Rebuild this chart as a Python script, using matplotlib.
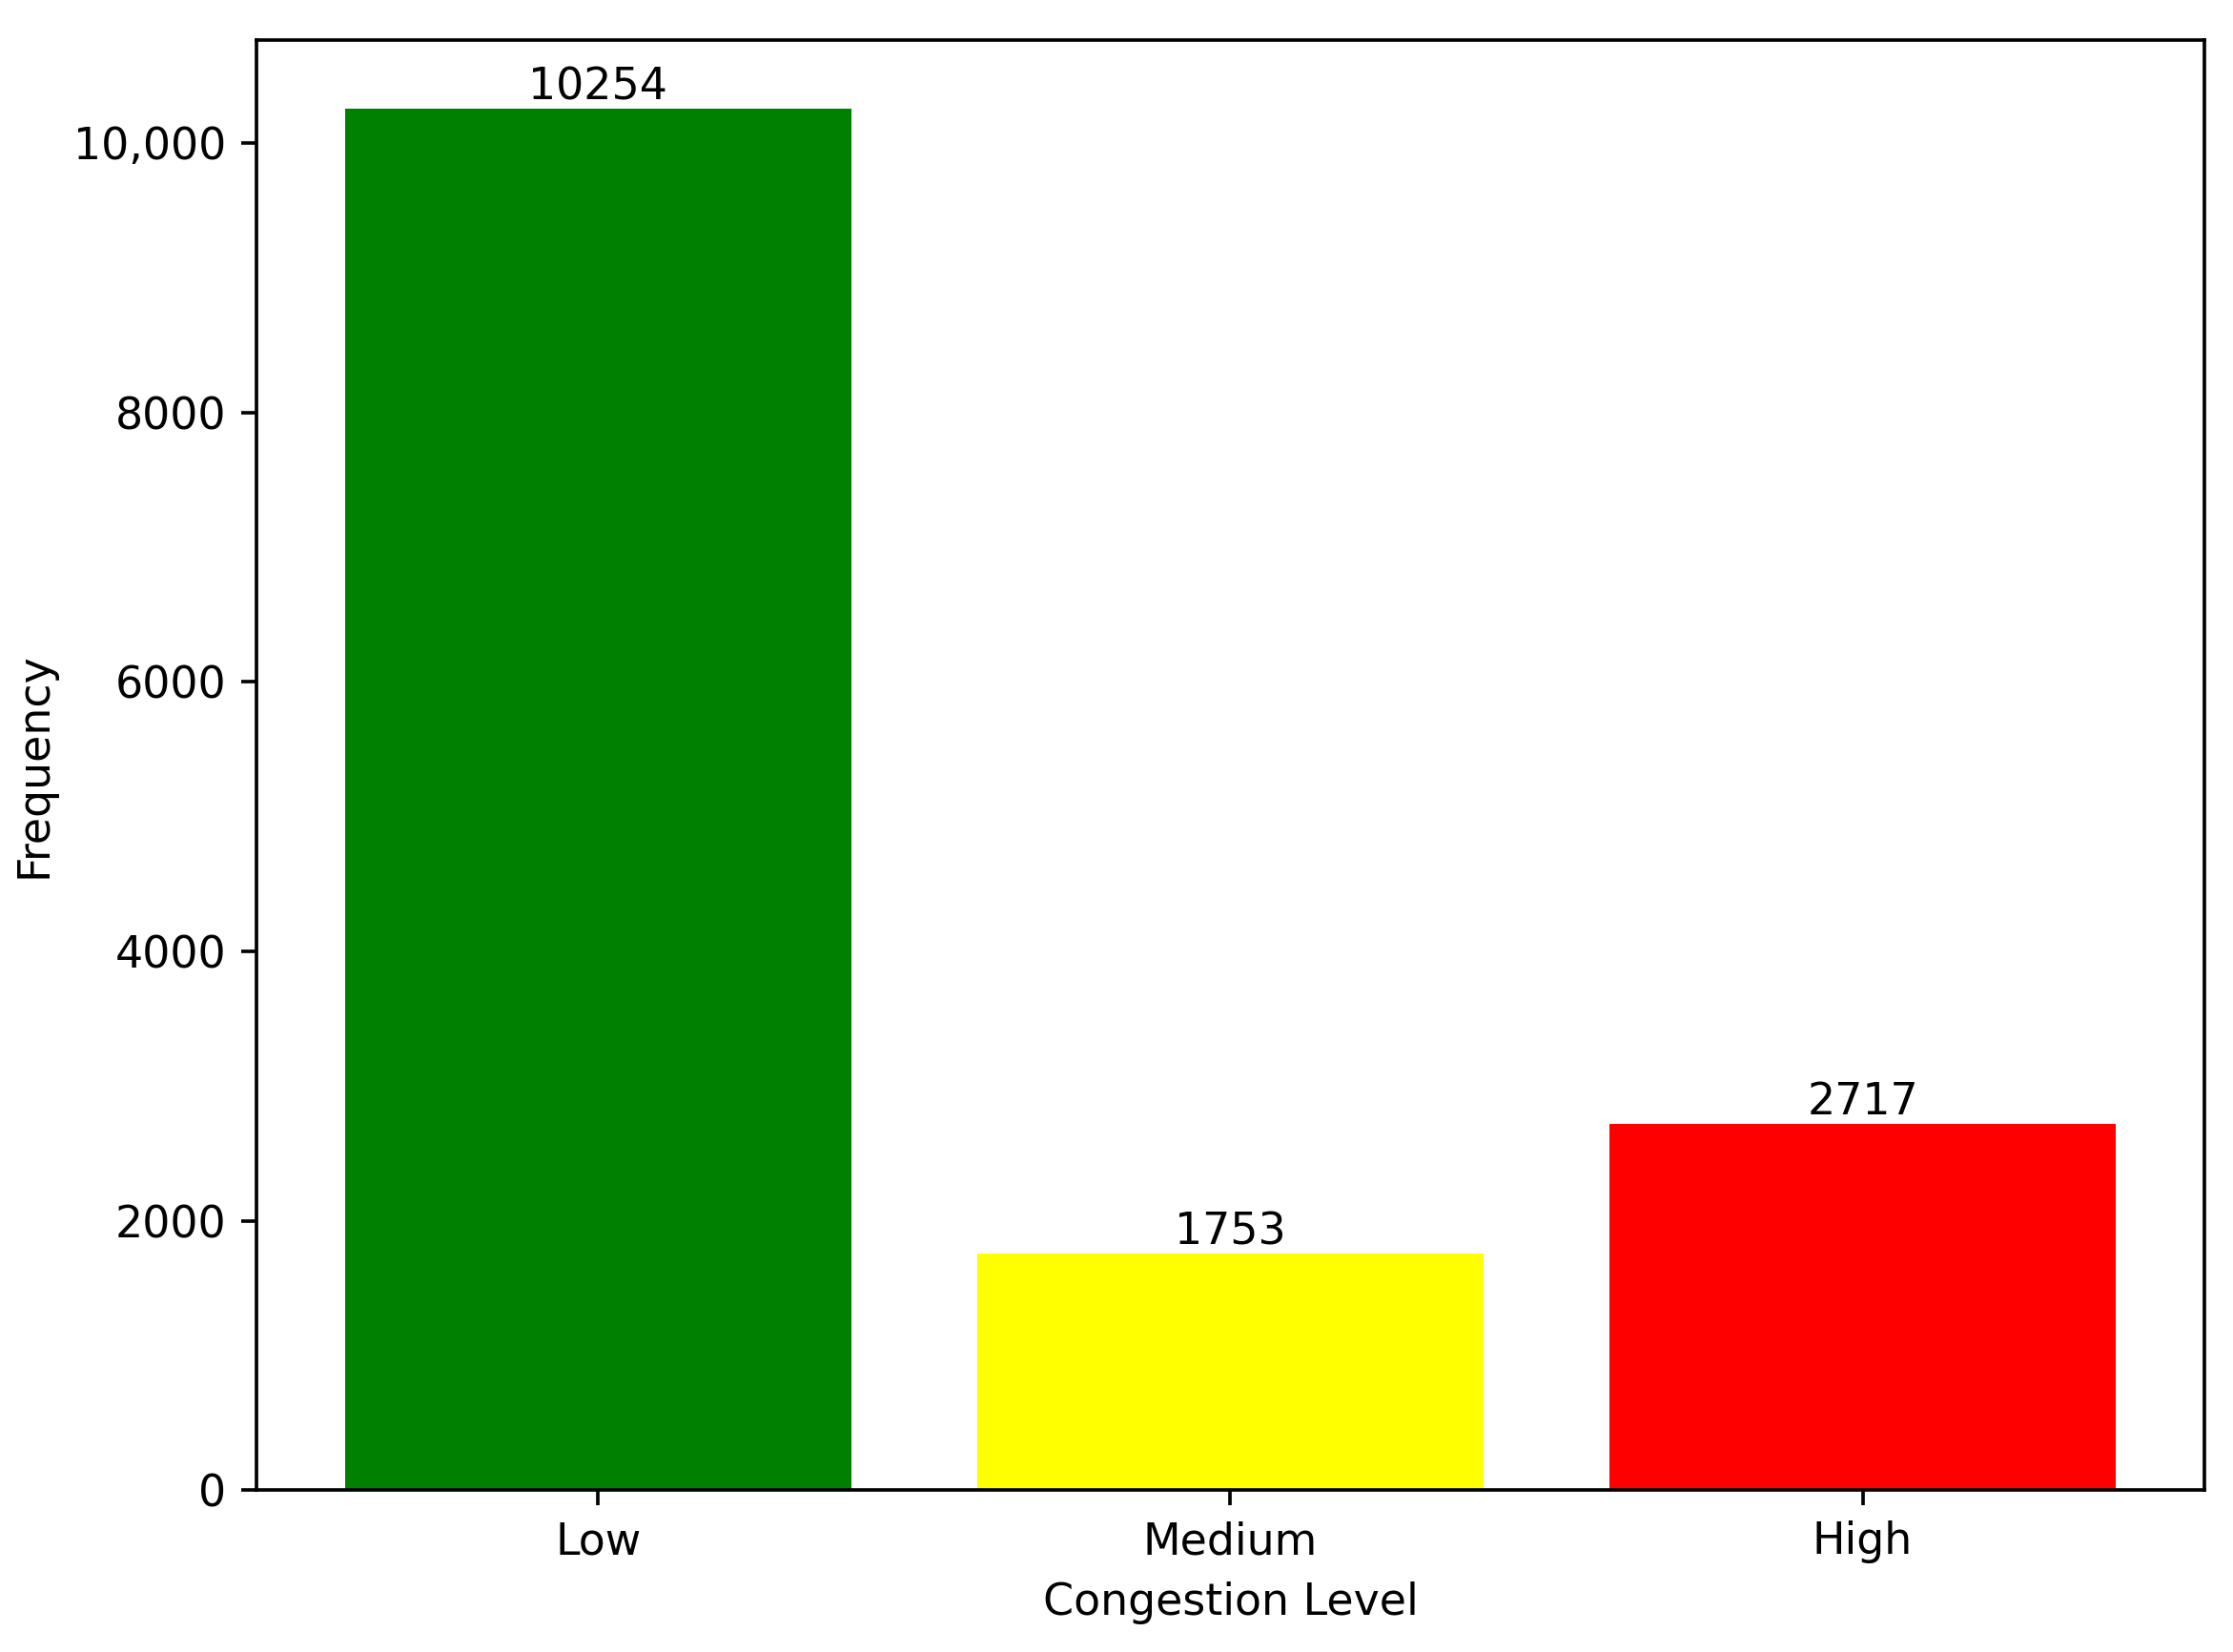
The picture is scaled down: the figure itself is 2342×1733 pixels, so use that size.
import matplotlib
matplotlib.use("Agg")
import matplotlib.pyplot as plt

levels = ["Low", "Medium", "High"]
counts = [10254, 1753, 2717]
bar_colors = ["green", "yellow", "red"]
ytick_vals = [0, 2000, 4000, 6000, 8000, 10000]
ytick_labels = ["0", "2000", "4000", "6000", "8000", "10,000"]

DPI = 330
fig, ax = plt.subplots(figsize=(2342 / DPI, 1733 / DPI), dpi=DPI)
bars = ax.bar(levels, counts, color=bar_colors)
ax.bar_label(bars, labels=[str(c) for c in counts])
ax.set_yticks(ytick_vals)
ax.set_yticklabels(ytick_labels)
ax.set_xlabel("Congestion Level")
ax.set_ylabel("Frequency")

fig.subplots_adjust(left=0.115, right=0.987, top=0.976, bottom=0.098)
fig.savefig("out.png", dpi=DPI)
